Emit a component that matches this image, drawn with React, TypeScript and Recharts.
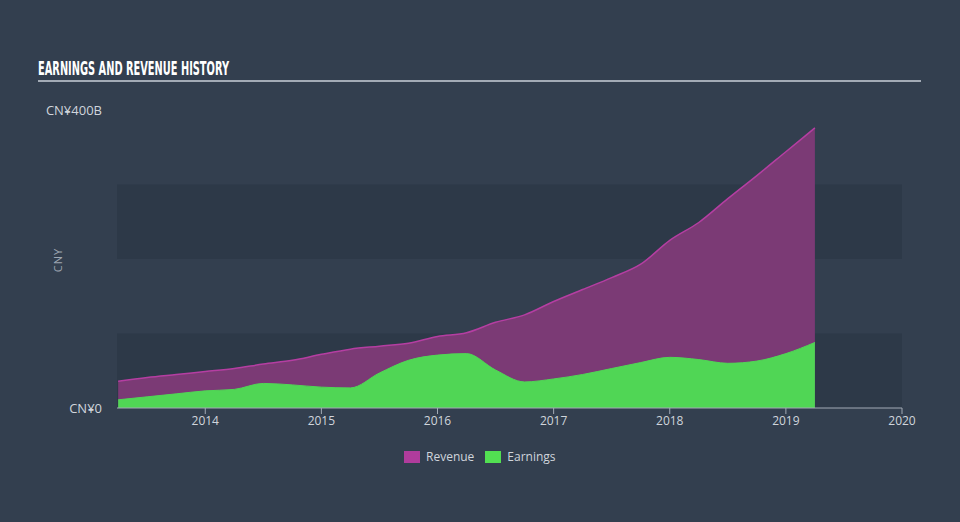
import React from 'react';
import { AreaChart, Area, XAxis, YAxis, ReferenceArea } from 'recharts';

// quarterly points, values in CN¥ billions
const quarters = [
  2013.25, 2013.5, 2013.75, 2014, 2014.25, 2014.5, 2014.75, 2015, 2015.25, 2015.5, 2015.75, 2016,
  2016.25, 2016.5, 2016.75, 2017, 2017.25, 2017.5, 2017.75, 2018, 2018.25, 2018.5, 2018.75, 2019, 2019.25
];
const revenue = [36, 41, 45, 49, 53, 59, 64, 72, 79, 83, 87, 96, 101, 115, 125, 143, 159, 175, 193, 225, 249, 281, 312, 344, 376];
const earnings = [11, 15, 19, 23, 25, 33, 31, 28, 27, 47, 64, 71, 73, 51, 35, 39, 45, 53, 61, 68, 65, 60, 63, 73, 88];
const yearTicks = [2014, 2015, 2016, 2017, 2018, 2019, 2020];
const valueTicks = [0, 100, 200, 300, 400];

const data = quarters.map((t, i) => ({ t, revenue: revenue[i], earnings: earnings[i] }));

const BG = '#333f4f';
const BAND = '#2d3948';
const FONT = '"Open Sans", "DejaVu Sans", sans-serif';

const yLabel = (v: number) => (v === 0 ? 'CN¥0' : v === 400 ? 'CN¥400B' : '');

const App = () => {
  return (
    <div style={{ position: 'absolute', left: 0, top: 0, width: 960, height: 522, background: BG, overflow: 'hidden' }}>
      <svg width={960} height={90} style={{ position: 'absolute', left: 0, top: 0 }}>
        <text
          x={38}
          y={75}
          textLength={191}
          lengthAdjust="spacingAndGlyphs"
          fill="#ffffff"
          fontSize={20}
          fontWeight="bold"
          fontFamily='"DejaVu Sans Condensed", "DejaVu Sans", sans-serif'
        >
          EARNINGS AND REVENUE HISTORY
        </text>
        <rect x={38} y={80} width={883} height={2} fill="#a3abb6" />
      </svg>

      <div
        style={{
          position: 'absolute', left: 57, top: 260, transform: 'translate(-50%, -50%) rotate(-90deg)',
          color: '#9ea6b2', fontFamily: FONT, fontSize: 11, letterSpacing: 1
        }}
      >
        CNY
      </div>

      <div style={{ position: 'absolute', left: 30, top: 100 }}>
        <AreaChart width={900} height={338} data={data} margin={{ top: 10, right: 28, left: 0, bottom: 0 }}>
          <ReferenceArea y1={0} y2={100} fill={BAND} fillOpacity={1} stroke="none" />
          <ReferenceArea y1={200} y2={300} fill={BAND} fillOpacity={1} stroke="none" />
          <XAxis
            dataKey="t"
            type="number"
            domain={[2013.24, 2020]}
            ticks={yearTicks}
            allowDataOverflow
            height={30}
            axisLine={{ stroke: '#a3abb6' }}
            tickLine={{ stroke: '#a3abb6' }}
            tickSize={6}
            tick={{ fill: '#d0d5dc', fontSize: 12, fontFamily: FONT }}
          />
          <YAxis
            domain={[0, 400]}
            ticks={valueTicks}
            width={87}
            axisLine={false}
            tickLine={false}
            tickSize={0}
            tickMargin={15}
            tickFormatter={yLabel}
            tick={{ fill: '#d0d5dc', fontSize: 13, fontFamily: FONT }}
          />
          <Area
            type="monotone"
            dataKey="revenue"
            stroke="#b53ea2"
            strokeWidth={1.5}
            fill="#7b3a75"
            fillOpacity={1}
            isAnimationActive={false}
          />
          <Area
            type="monotone"
            dataKey="earnings"
            stroke="#50d655"
            strokeWidth={1}
            fill="#50d655"
            fillOpacity={1}
            isAnimationActive={false}
          />
        </AreaChart>
      </div>

      <div
        style={{
          position: 'absolute', left: 404, top: 448, display: 'flex', alignItems: 'center',
          fontFamily: FONT, fontSize: 12, color: '#d0d5dc'
        }}
      >
        <div style={{ width: 16, height: 12, background: '#b03c9c', marginRight: 6 }} />
        <span style={{ marginRight: 11 }}>Revenue</span>
        <div style={{ width: 16, height: 12, background: '#52e052', marginRight: 6 }} />
        <span>Earnings</span>
      </div>
    </div>
  );
};

export default App;
